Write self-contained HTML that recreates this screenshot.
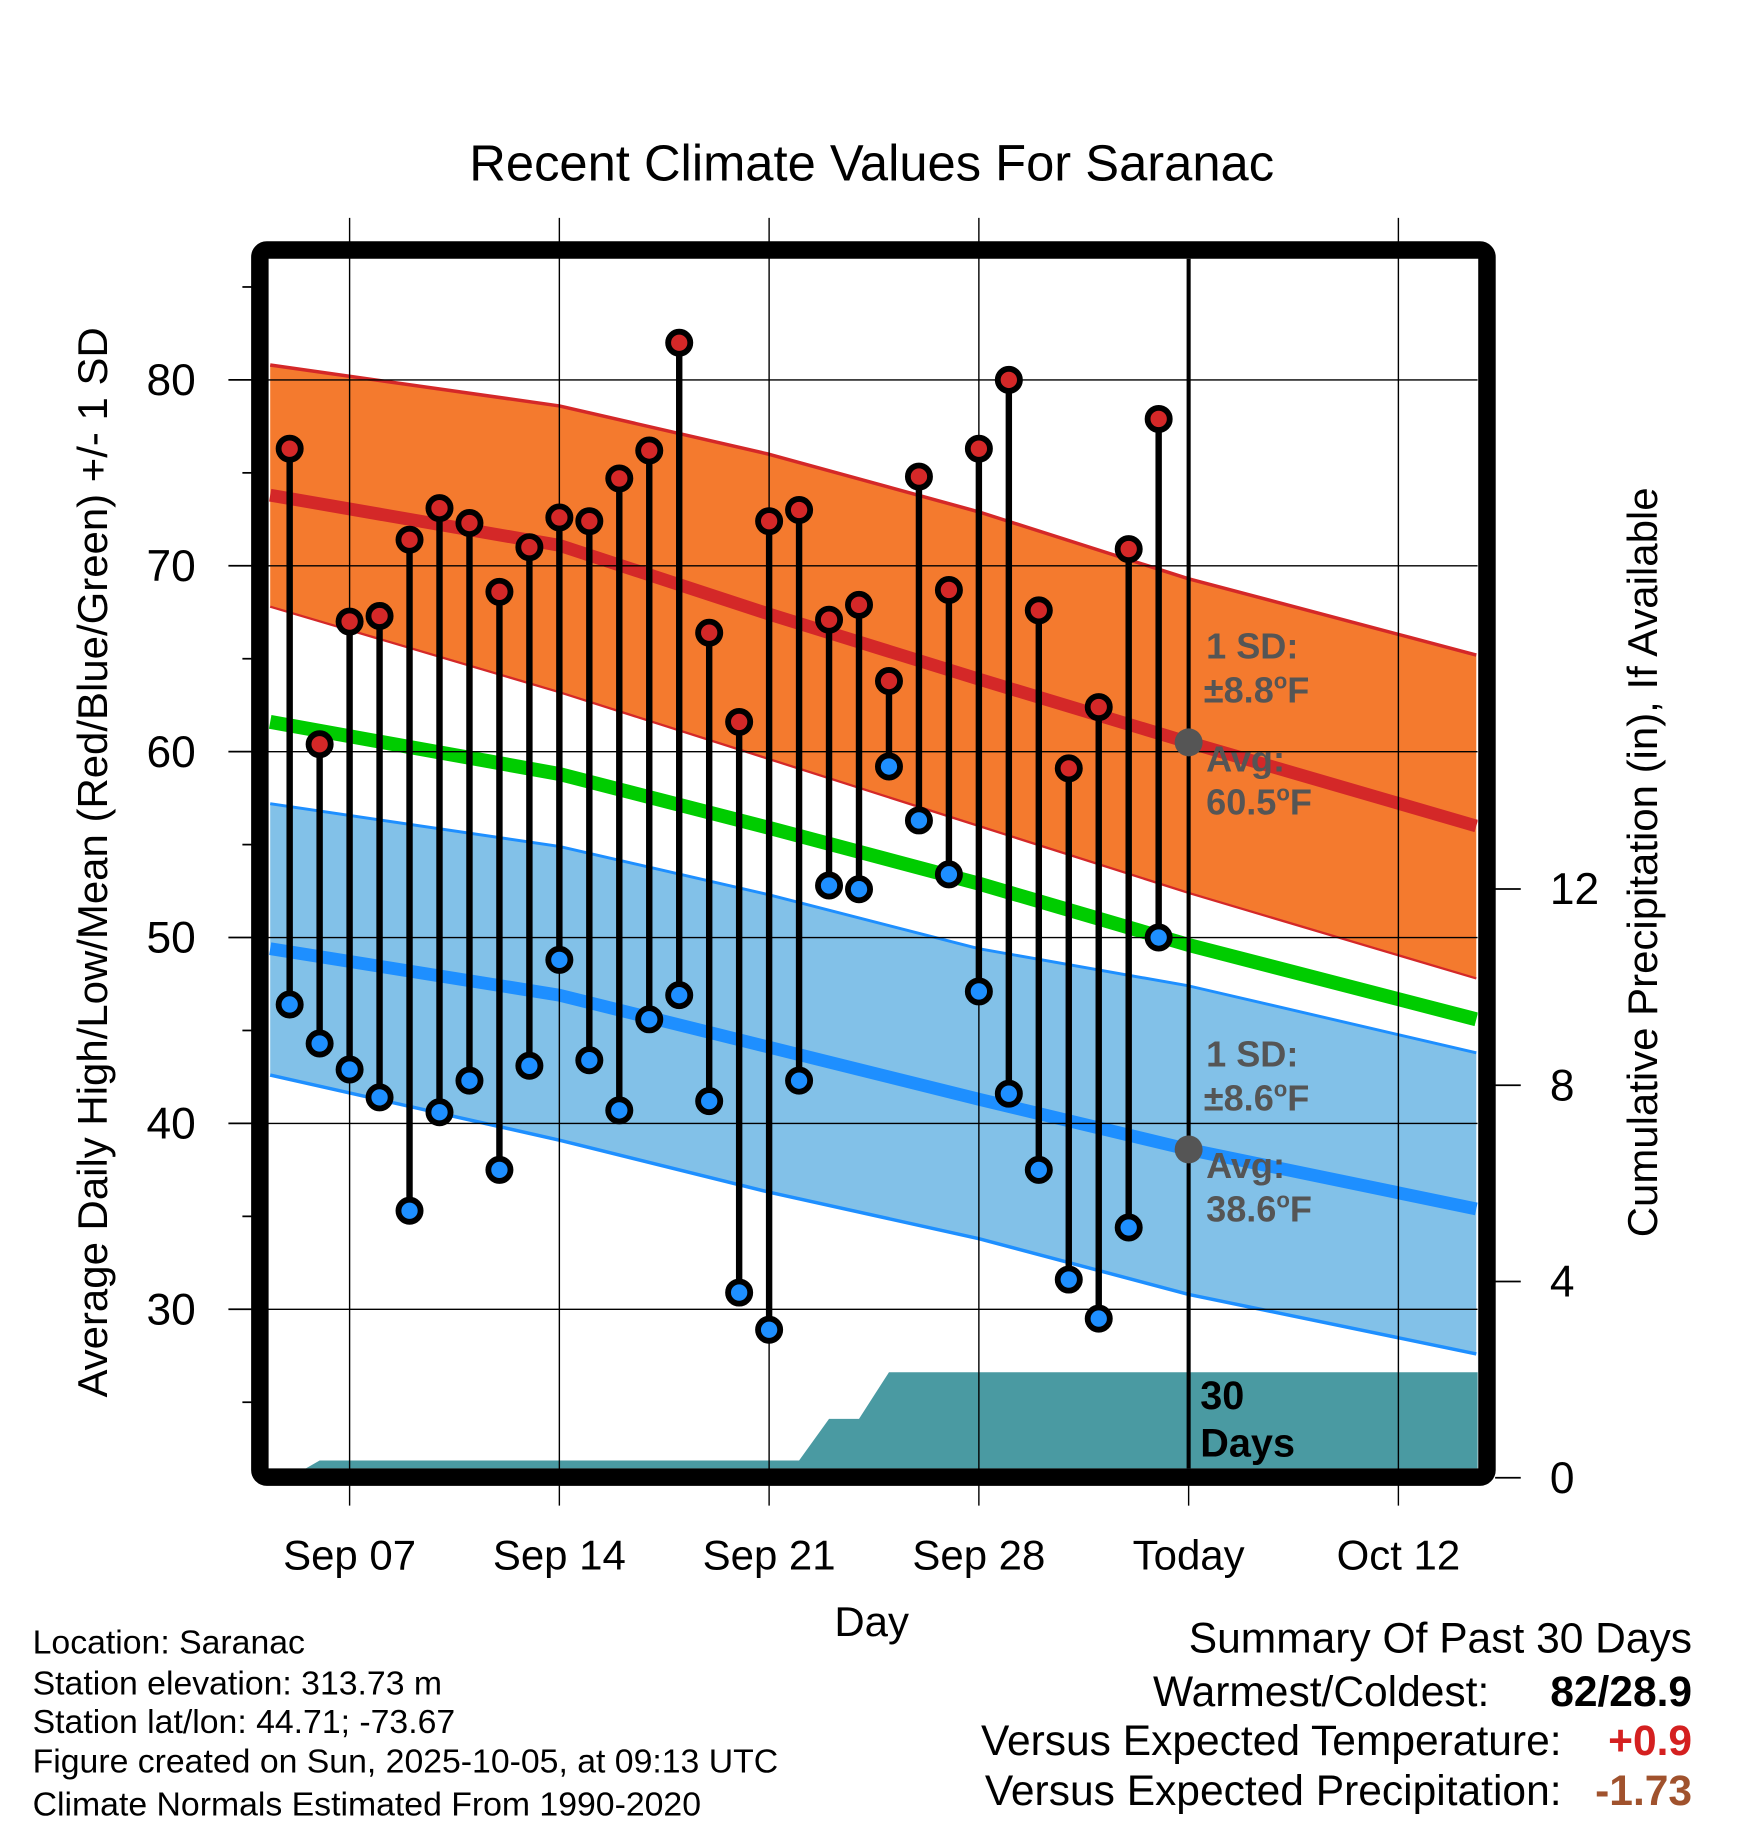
<!DOCTYPE html>
<html><head><meta charset="utf-8">
<style>
html,body{margin:0;padding:0;background:#fff;}
svg{display:block;font-family:"Liberation Sans",Arial,sans-serif;}
</style></head>
<body>
<svg id="chart" width="1748" height="1828" viewBox="0 0 1500 1568.6" preserveAspectRatio="none" xmlns="http://www.w3.org/2000/svg">
<text x="748" y="155" font-size="43.5" text-anchor="middle">Recent Climate Values For Saranac</text>
<g id="plot"></g>
<text transform="translate(92,740) rotate(-90)" font-size="36" text-anchor="middle">Average Daily High/Low/Mean (Red/Blue/Green) +/- 1 SD</text>
<text transform="translate(1422,740) rotate(-90)" font-size="36" text-anchor="middle">Cumulative Precipitation (in), If Available</text>
<text x="748" y="1404" font-size="36" text-anchor="middle">Day</text>
<g font-size="29">
<text x="28" y="1419">Location: Saranac</text>
<text x="28" y="1454">Station elevation: 313.73 m</text>
<text x="28" y="1487">Station lat/lon: 44.71; -73.67</text>
<text x="28" y="1521">Figure created on Sun, 2025-10-05, at 09:13 UTC</text>
<text x="28" y="1558">Climate Normals Estimated From 1990-2020</text>
</g>
<g font-size="36.5">
<text x="1452" y="1418" text-anchor="end">Summary Of Past 30 Days</text>
<text x="1278" y="1464" text-anchor="end">Warmest/Coldest:</text>
<text x="1452" y="1464" text-anchor="end" font-weight="bold">82/28.9</text>
<text x="1340" y="1506" text-anchor="end">Versus Expected Temperature:</text>
<text x="1452" y="1506" text-anchor="end" font-weight="bold" fill="#d42020">+0.9</text>
<text x="1340" y="1549" text-anchor="end">Versus Expected Precipitation:</text>
<text x="1452" y="1549" text-anchor="end" font-weight="bold" fill="#a0522d">-1.73</text>
</g>
</svg>
<script>
// day index: 0 = Sep 07
const highs=[76.3,60.4,67.0,67.3,71.4,73.1,72.3,68.6,71.0,72.6,72.4,74.7,76.2,82.0,66.4,61.6,72.4,73.0,67.1,67.9,63.8,74.8,68.7,76.3,80.0,67.6,59.1,62.4,70.9,77.9];
const lows=[46.4,44.3,42.9,41.4,35.3,40.6,42.3,37.5,43.1,48.8,43.4,40.7,45.6,46.9,41.2,30.9,28.9,42.3,52.8,52.6,59.2,56.3,53.4,47.1,41.6,37.5,31.6,29.5,34.4,50.0];
const firstDay=-2;
const precip=[0,0.35,0.35,0.35,0.35,0.35,0.35,0.35,0.35,0.35,0.35,0.35,0.35,0.35,0.35,0.35,0.35,0.35,1.2,1.2,2.15,2.15,2.15,2.15,2.15,2.15,2.15,2.15,2.15,2.15];
const normDays=[-2.65,7,14,21,28,37.6];
const normHigh=[73.8,71.1,67.4,63.9,60.5,56.0];
const normHighUp=[80.8,78.6,76.0,72.9,69.3,65.2];
const normHighLo=[67.8,63.2,59.6,56.0,52.4,47.8];
const normMean=[61.6,58.8,55.9,52.9,49.6,45.6];
const normLow=[49.4,46.9,44.1,41.3,38.6,35.4];
const normLowUp=[57.2,54.9,52.3,49.4,47.4,43.8];
const normLowLo=[42.6,39.1,36.3,33.8,30.8,27.6];
const yTicks=[30,40,50,60,70,80];
const pTicks=[0,4,8,12];
const xTickDays=[0,7,14,21,28,35];
const xTickLabels=["Sep 07","Sep 14","Sep 21","Sep 28","Today","Oct 12"];
const todayDay=28;

const L=230,R=1268,T=222,B=1260;
const X=d=>300+d*25.714;
const Y=v=>326+(80-v)*15.95;
const P=p=>1268-p*42.1;
const NS="http://www.w3.org/2000/svg";
const g=document.getElementById('plot');
function mk(tag,attrs,parent){const e=document.createElementNS(NS,tag);for(const k in attrs)e.setAttribute(k,attrs[k]);(parent||g).appendChild(e);return e;}
const clip=mk('clipPath',{id:'c'});mk('rect',{x:L,y:T,width:R-L,height:B-T},clip);
const inner=mk('g',{'clip-path':'url(#c)'});


function pts(arr){return normDays.map((d,i)=>X(d)+','+Y(arr[i]));}
function band(up,lo,fill,name){const p=pts(up).concat(pts(lo).reverse());const e=mk('polygon',{points:p.join(' '),fill:fill},inner);

}
function line(arr,col,w,name){const e=mk('polyline',{points:pts(arr).join(' '),fill:'none',stroke:col,'stroke-width':w,'stroke-linejoin':'round'},inner);

}
band(normHighUp,normHighLo,'#f47a2e','high-sd-band');
line(normHighUp,'#d42828',3,'high-sd-upper');
line(normHighLo,'#d42828',2,'high-sd-lower');
band(normLowUp,normLowLo,'#82c1e8','low-sd-band');
line(normLowUp,'#1e8fff',2.5,'low-sd-upper');
line(normLowLo,'#1e8fff',3,'low-sd-lower');
line(normHigh,'#d42828',11,'high-avg-line');
line(normMean,'#00cc00',12,'mean-avg-line');
line(normLow,'#1e8fff',11,'low-avg-line');
// precip
let pp=[];precip.forEach((v,i)=>pp.push(X(firstDay+i)+','+P(v)));
pp.push(X(40)+','+P(precip[precip.length-1]));pp.push(X(40)+','+P(0));pp.push(X(firstDay)+','+P(0));
const pa=mk('polygon',{points:pp.join(' '),fill:'#4a9aa2'},inner);


// grid
yTicks.forEach(v=>{const e=mk('line',{x1:L,x2:R,y1:Y(v),y2:Y(v),stroke:'#000','stroke-width':1.2},inner);

});
xTickDays.forEach((d,i)=>{if(d===todayDay)return;const e=mk('line',{x1:X(d),x2:X(d),y1:187,y2:1292,stroke:'#000','stroke-width':1.2});

});
const tl=mk('line',{x1:X(todayDay),x2:X(todayDay),y1:T,y2:B,stroke:'#000','stroke-width':3.5});


const tl2=mk('line',{x1:X(todayDay),x2:X(todayDay),y1:1268,y2:1292,stroke:'#000','stroke-width':1.2});


// annotations
function ann(x,y,txt,name){const e=mk('text',{x:x,y:y,'font-size':31,'font-weight':'bold',fill:'#555'});e.textContent=txt;

}
ann(1035,565,'1 SD:','high-sd-label');
const t1=mk('text',{x:1033,y:603,'font-size':31,'font-weight':'bold',fill:'#555'});t1.innerHTML='±8.8<tspan font-size="19" dy="-12">o</tspan><tspan dy="12">F</tspan>';


ann(1035,662,'Avg:','high-avg-label');
const t2=mk('text',{x:1035,y:699,'font-size':31,'font-weight':'bold',fill:'#555'});t2.innerHTML='60.5<tspan font-size="19" dy="-12">o</tspan><tspan dy="12">F</tspan>';


ann(1035,915,'1 SD:','low-sd-label');
const t3=mk('text',{x:1033,y:953,'font-size':31,'font-weight':'bold',fill:'#555'});t3.innerHTML='±8.6<tspan font-size="19" dy="-12">o</tspan><tspan dy="12">F</tspan>';


ann(1035,1011,'Avg:','low-avg-label');
const t4=mk('text',{x:1035,y:1048,'font-size':31,'font-weight':'bold',fill:'#555'});t4.innerHTML='38.6<tspan font-size="19" dy="-12">o</tspan><tspan dy="12">F</tspan>';


const d1=mk('circle',{cx:X(todayDay),cy:Y(normHigh[4]),r:12,fill:'#555'});


const d2=mk('circle',{cx:X(todayDay),cy:Y(normLow[4]),r:12,fill:'#555'});


// stems & markers
highs.forEach((h,i)=>{const x=X(firstDay+i);
const s=mk('line',{x1:x,x2:x,y1:Y(h),y2:Y(lows[i]),stroke:'#000','stroke-width':5.5});

});
highs.forEach((h,i)=>{const x=X(firstDay+i);
const a=mk('circle',{cx:x,cy:Y(h),r:9.5,fill:'#d42828',stroke:'#000','stroke-width':5});


const b=mk('circle',{cx:x,cy:Y(lows[i]),r:9.5,fill:'#1e8fff',stroke:'#000','stroke-width':5});

});
const dl=mk('text',{x:1030,y:1209,'font-size':34,'font-weight':'bold'});dl.textContent='30';


const dl2=mk('text',{x:1030,y:1250,'font-size':34,'font-weight':'bold'});dl2.textContent='Days';


// frame
const fr=mk('rect',{x:223,y:214.5,width:1053,height:1053,rx:6,fill:'none',stroke:'#000','stroke-width':15});


// y ticks
for(let v=25;v<=85;v+=5){const major=v%10===0;const e=mk('line',{x1:major?196:208,x2:216,y1:Y(v),y2:Y(v),stroke:'#000','stroke-width':1.5});

}
yTicks.forEach(v=>{const e=mk('text',{x:168,y:Y(v)+13,'font-size':38,'text-anchor':'end'});e.textContent=v;

});
pTicks.forEach(p=>{const e=mk('line',{x1:1283,x2:1305,y1:P(p),y2:P(p),stroke:'#000','stroke-width':1.5});


const t=mk('text',{x:1330,y:P(p)+13,'font-size':38});t.textContent=p;

});
xTickDays.forEach((d,i)=>{const t=mk('text',{x:X(d),y:1347,'font-size':36,'text-anchor':'middle'});t.textContent=xTickLabels[i];

});
</script>
</body></html>
